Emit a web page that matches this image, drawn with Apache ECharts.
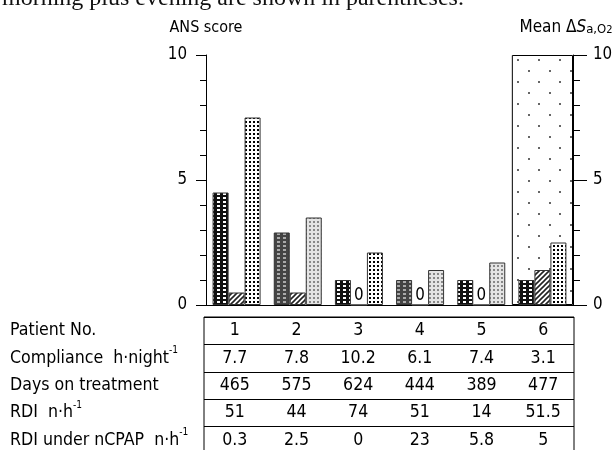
<!DOCTYPE html>
<html>
<head>
<meta charset="utf-8">
<script src="https://cdn.jsdelivr.net/npm/echarts@6/dist/echarts.min.js"></script>
<style>
  html, body { margin: 0; padding: 0; background: #fff; }
  #chart { width: 616px; height: 450px; }
</style>
</head>
<body>
<div id="chart"></div>
<script>
// ---------------- data ----------------
const patients = ['1', '2', '3', '4', '5', '6'];
const ansSeriesA = [4.5, 2.9, 1, 1, 1, 1];
const ansSeriesB = [0.5, 0.5, 0, 0, 0, 1.4];
const ansSeriesC = [7.5, 3.5, 2.1, 1.4, 1.7, 2.5];
const meanDeltaSaO2 = [null, null, null, null, null, 10];

const rowTitles = ['Patient No.', 'Compliance  h·night-1', 'Days on treatment', 'RDI  n·h-1', 'RDI under nCPAP  n·h-1'];
const compliance = ['7.7', '7.8', '10.2', '6.1', '7.4', '3.1'];
const daysOnTreatment = ['465', '575', '624', '444', '389', '477'];
const rdi = ['51', '44', '74', '51', '14', '51.5'];
const rdiUnderNCPAP = ['0.3', '2.5', '0', '23', '5.8', '5'];

const headerText = 'morning plus evening are shown in parentheses.';

// ---------------- styling helpers ----------------
function fontAvailable(name) {
  const c = document.createElement('canvas').getContext('2d');
  const t = 'Days on treatment 0123456789';
  c.font = '40px monospace'; const a = c.measureText(t).width;
  c.font = '40px "' + name + '", monospace'; const b = c.measureText(t).width;
  c.font = '40px serif'; const a2 = c.measureText(t).width;
  c.font = '40px "' + name + '", serif'; const b2 = c.measureText(t).width;
  return a !== b || a2 !== b2;
}
let F, k;
if (fontAvailable('Liberation Sans Narrow')) { F = "'Liberation Sans Narrow', sans-serif"; k = 1; }
else if (fontAvailable('Arial Narrow')) { F = "'Arial Narrow', sans-serif"; k = 1; }
else if (fontAvailable('DejaVu Sans Condensed')) { F = "'DejaVu Sans Condensed', sans-serif"; k = 0.84; }
else { F = "'Liberation Sans', Arial, sans-serif"; k = 0.86; }
const fs = v => Math.round(v * k * 10) / 10;
const INK = '#000';

function tile(w, h, bg, draw) {
  const c = document.createElement('canvas');
  c.width = w; c.height = h;
  const g = c.getContext('2d');
  g.fillStyle = bg; g.fillRect(0, 0, w, h);
  draw(g);
  return { image: c, repeat: 'repeat' };
}
const PAT = {
  checkBlack: tile(6, 4, '#111', g => { g.fillStyle = '#fff'; g.fillRect(1, 1, 3, 2); }),
  checkGray: tile(6, 4, '#444', g => { g.fillStyle = '#aaa'; g.fillRect(1, 1, 3, 2); }),
  dotBlack: tile(4, 4, '#fff', g => { g.fillStyle = '#000'; g.fillRect(1, 1, 2, 2); }),
  dotGray: tile(4, 4, '#e4e4e4', g => { g.fillStyle = '#888'; g.fillRect(1, 1, 2, 2); }),
  hatch: tile(5, 5, '#fff', g => {
    g.strokeStyle = '#222'; g.lineWidth = 1.6; g.beginPath();
    g.moveTo(-1, 6); g.lineTo(6, -1);
    g.moveTo(-1, 1); g.lineTo(1, -1);
    g.moveTo(4, 6); g.lineTo(6, 4);
    g.stroke();
  }),
  sparse: tile(21, 22, '#fff', g => { g.fillStyle = '#666'; g.fillRect(3, 4, 2, 2); g.fillRect(13, 15, 2, 2); })
};
const grayA = [1, 3];        // style variants seen in the scan
const grayC = [1, 3, 4];

const barBorder = { borderColor: '#333', borderWidth: 1 };

const dataA = ansSeriesA.map((v, i) => ({ value: v, itemStyle: { color: grayA.includes(i) ? PAT.checkGray : PAT.checkBlack } }));
const dataB = ansSeriesB.map(v => v === 0 ? { value: v, label: { show: true } } : v);
const dataC = ansSeriesC.map((v, i) => ({ value: v, itemStyle: { color: grayC.includes(i) ? PAT.dotGray : PAT.dotBlack } }));

const tableRows = [patients, compliance, daysOnTreatment, rdi, rdiUnderNCPAP];
const cellData = [];
tableRows.forEach((row, r) => row.forEach((txt, i) => cellData.push({ value: [patients[i], rowTitles[r]], text: txt })));

const axisLineStyle = { color: '#000', width: 1 };

const option = {
  animation: false,
  backgroundColor: '#fff',
  textStyle: { fontFamily: F, color: INK },
  graphic: [{
    type: 'text', left: 2, top: -13, silent: true,
    style: { text: headerText, font: '24px "Liberation Serif", "Times New Roman", serif', fill: '#111' }
  }],
  grid: [
    { left: 206, right: 43, top: 55, bottom: 145, outerBoundsMode: 'none', containLabel: false },
    { left: 204, right: 42, top: 317, height: 137, outerBoundsMode: 'none', containLabel: false,
      show: true, borderColor: '#000', borderWidth: 1, backgroundColor: 'transparent' }
  ],
  xAxis: [
    { type: 'category', gridIndex: 0, data: patients, position: 'bottom',
      axisLine: { show: true, lineStyle: axisLineStyle }, axisTick: { show: false }, axisLabel: { show: false }, splitLine: { show: false } },
    { type: 'category', gridIndex: 0, data: patients, position: 'top',
      axisLine: { show: true, lineStyle: axisLineStyle }, axisTick: { show: false }, axisLabel: { show: false }, splitLine: { show: false } },
    { type: 'category', gridIndex: 1, data: patients, show: false }
  ],
  yAxis: [
    { type: 'value', gridIndex: 0, position: 'left', min: 0, max: 10, interval: 5,
      name: 'ANS score', nameLocation: 'end', nameGap: 19,
      nameTextStyle: { fontFamily: F, fontSize: 16, color: INK, align: 'center' },
      axisLine: { show: true, lineStyle: axisLineStyle },
      axisTick: { show: true, length: 10, lineStyle: axisLineStyle },
      minorTick: { show: true, splitNumber: 5, length: 6, lineStyle: axisLineStyle },
      axisLabel: { margin: 19, fontFamily: F, fontSize: fs(20), color: INK },
      splitLine: { show: false }, minorSplitLine: { show: false } },
    { type: 'value', gridIndex: 0, position: 'right', min: 0, max: 10, interval: 5,
      name: '{n|Mean Δ}{i|S}{s|a,O}{u|2}', nameLocation: 'end', nameGap: 19,
      nameTextStyle: {
        align: 'center', padding: [0, 14, 0, 0],
        rich: {
          n: { fontFamily: F, fontSize: 17, color: INK, lineHeight: 28, verticalAlign: 'bottom' },
          i: { fontFamily: F, fontSize: 17, fontStyle: 'italic', color: INK, lineHeight: 28, verticalAlign: 'bottom' },
          s: { fontFamily: F, fontSize: 13, color: INK, lineHeight: 24, verticalAlign: 'bottom' },
          u: { fontFamily: F, fontSize: 11, color: INK, lineHeight: 11, verticalAlign: 'bottom' }
        }
      },
      axisLine: { show: true, lineStyle: axisLineStyle },
      axisTick: { show: true, length: 14, lineStyle: axisLineStyle },
      minorTick: { show: true, splitNumber: 5, length: 7, lineStyle: axisLineStyle },
      axisLabel: { margin: 20, fontFamily: F, fontSize: fs(20), color: INK },
      splitLine: { show: false }, minorSplitLine: { show: false } },
    { type: 'category', gridIndex: 1, data: rowTitles, inverse: true,
      axisLine: { show: false }, axisTick: { show: false },
      splitLine: { show: true, interval: 0, lineStyle: { color: '#000', width: 1 } },
      axisLabel: {
        interval: 0, align: 'left', margin: 194,
        formatter: v => /-1$/.test(v) ? '{m|' + v.replace(/-1$/, '') + '}{sup|-1}' : '{m|' + v + '}',
        rich: {
          m: { fontFamily: F, fontSize: fs(21), color: INK, lineHeight: 26 },
          sup: { fontFamily: F, fontSize: fs(12), color: INK, lineHeight: 14, verticalAlign: 'top' }
        }
      } }
  ],
  series: [
    { name: 'Mean ΔSa,O2', type: 'bar', xAxisIndex: 1, yAxisIndex: 1, data: meanDeltaSaO2,
      barWidth: '100%', z: 1, silent: true,
      itemStyle: { color: PAT.sparse, borderColor: '#000', borderWidth: 1 } },
    { name: 'ANS score a', type: 'bar', xAxisIndex: 0, yAxisIndex: 0, data: dataA,
      barWidth: 16, barGap: '0%', z: 3, silent: true, itemStyle: Object.assign({}, barBorder) },
    { name: 'ANS score b', type: 'bar', xAxisIndex: 0, yAxisIndex: 0, data: dataB,
      barWidth: 16, barGap: '0%', z: 3, silent: true,
      itemStyle: Object.assign({ color: PAT.hatch }, barBorder),
      label: { show: false, position: 'top', distance: 0, formatter: '0',
               fontFamily: F, fontSize: fs(20), color: INK } },
    { name: 'ANS score c', type: 'bar', xAxisIndex: 0, yAxisIndex: 0, data: dataC,
      barWidth: 16, barGap: '0%', z: 3, silent: true, itemStyle: Object.assign({}, barBorder) },
    { name: 'table', type: 'scatter', xAxisIndex: 2, yAxisIndex: 2, data: cellData,
      symbolSize: 1, itemStyle: { color: 'rgba(0,0,0,0)', opacity: 1 }, silent: true,
      label: { show: true, position: 'inside', formatter: p => p.data.text,
               fontFamily: F, fontSize: fs(21), color: INK, opacity: 1,
               textBorderWidth: 0, textBorderColor: 'transparent' } }
  ]
};

const chart = echarts.init(document.getElementById('chart'), null, { renderer: 'canvas' });
chart.setOption(option);
</script>
</body>
</html>
